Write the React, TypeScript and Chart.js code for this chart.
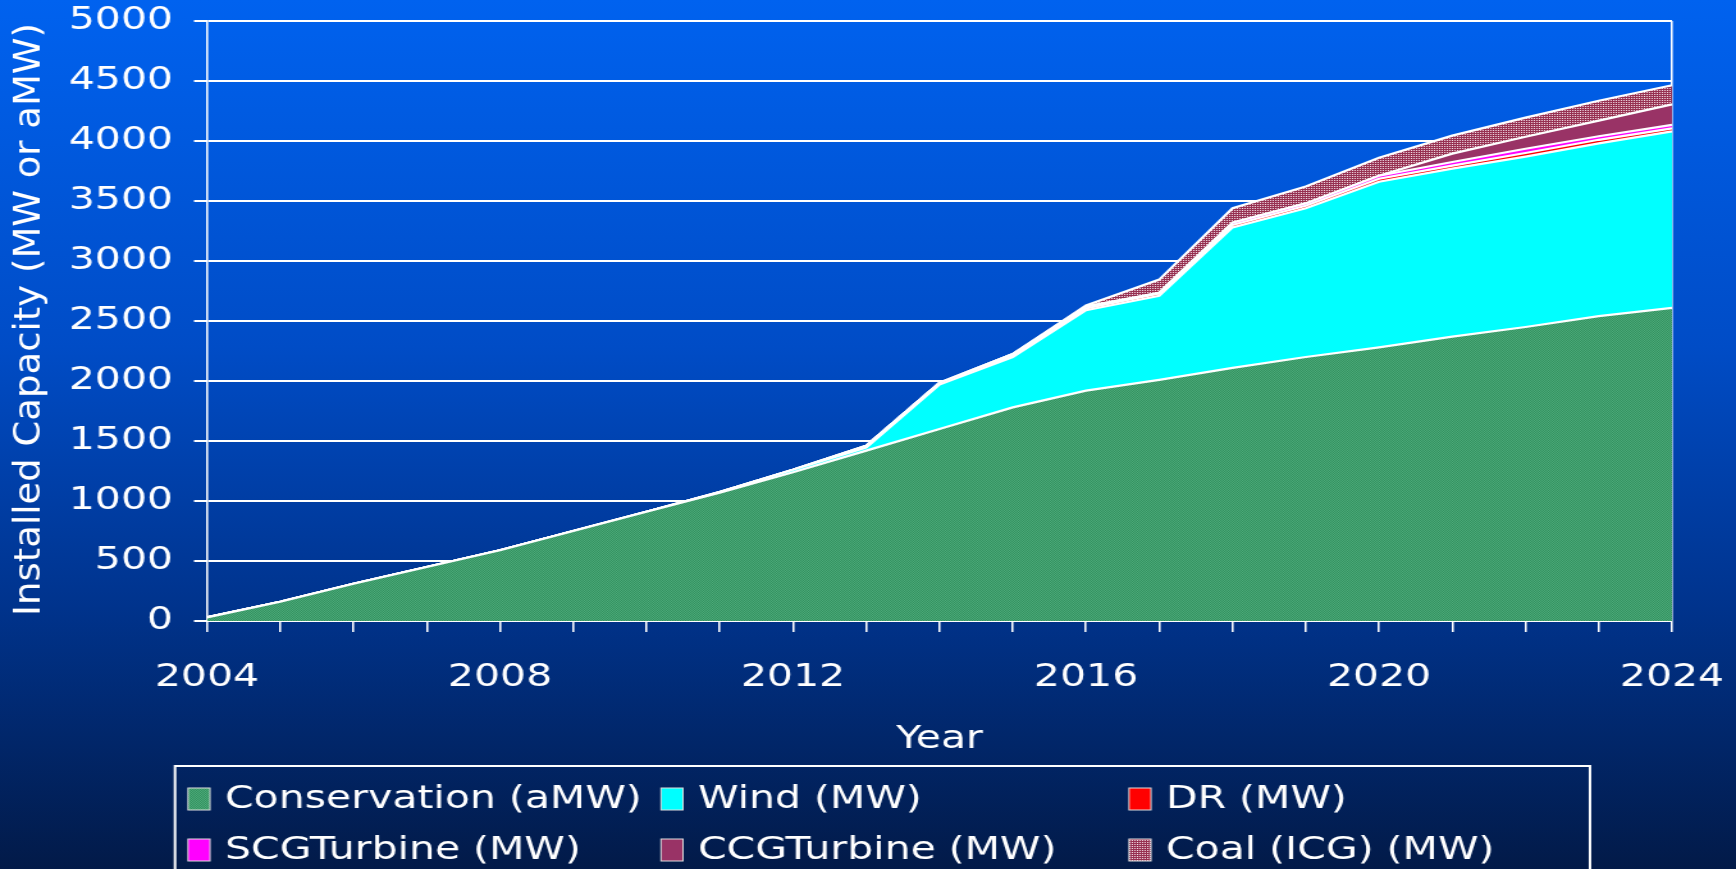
import React, { useEffect, useRef } from 'react';
import { Chart, registerables } from 'chart.js';

Chart.register(...registerables);

// ---- data ----
const years = [2004, 2005, 2006, 2007, 2008, 2009, 2010, 2011, 2012, 2013, 2014, 2015, 2016, 2017, 2018, 2019, 2020, 2021, 2022, 2023, 2024];
const conservation = [30, 160, 310, 450, 590, 750, 910, 1070, 1240, 1420, 1600, 1780, 1920, 2010, 2110, 2200, 2280, 2370, 2450, 2540, 2610];
const wind = [0, 0, 0, 0, 0, 0, 0, 5, 20, 25, 370, 420, 670, 700, 1170, 1240, 1380, 1400, 1420, 1440, 1470];
const dr = [0, 0, 0, 0, 0, 0, 0, 0, 0, 15, 15, 15, 15, 20, 20, 20, 25, 25, 30, 30, 25];
const scgTurbine = [0, 0, 0, 0, 0, 0, 0, 0, 0, 0, 0, 10, 15, 5, 20, 20, 25, 30, 35, 30, 30];
const ccgTurbine = [0, 0, 0, 0, 0, 0, 0, 0, 0, 0, 0, 0, 0, 0, 0, 0, 0, 70, 100, 130, 170];
const coal = [0, 0, 0, 0, 0, 0, 0, 0, 0, 0, 0, 0, 10, 110, 120, 140, 150, 150, 160, 165, 160];
const seriesLabels = ['Conservation (aMW)', 'Wind (MW)', 'DR (MW)', 'SCGTurbine (MW)', 'CCGTurbine (MW)', 'Coal (ICG) (MW)'];
const xLabelYears = [2004, 2008, 2012, 2016, 2020, 2024];
const yMin = 0;
const yMax = 5000;
const yStep = 500;
const xTitle = 'Year';
const yTitle = 'Installed Capacity (MW or aMW)';

// ---- layout (canvas is drawn narrower and stretched horizontally) ----
const FULL_W = 1736;
const FULL_H = 869;
const SX = 1.28;
const CW = Math.round(FULL_W / SX);
const SXR = FULL_W / CW;
const FONT = '"DejaVu Sans", Verdana, sans-serif';

function makePattern(ctx: CanvasRenderingContext2D, base: string, dot: string) {
  const cv = document.createElement('canvas');
  cv.width = 2;
  cv.height = 2;
  const g = cv.getContext('2d')!;
  g.fillStyle = base;
  g.fillRect(0, 0, 2, 2);
  g.fillStyle = dot;
  g.fillRect(0, 0, 1, 1);
  return ctx.createPattern(cv, 'repeat') as CanvasPattern;
}

function checker(ctx: CanvasRenderingContext2D, c1: string, c2: string) {
  const cv = document.createElement('canvas');
  cv.width = 2;
  cv.height = 2;
  const g = cv.getContext('2d')!;
  g.fillStyle = c1;
  g.fillRect(0, 0, 2, 2);
  g.fillStyle = c2;
  g.fillRect(0, 0, 1, 1);
  g.fillRect(1, 1, 1, 1);
  return ctx.createPattern(cv, 'repeat') as CanvasPattern;
}

const legendPlugin = {
  id: 'boxLegend',
  afterDraw(chart: any) {
    const ctx: CanvasRenderingContext2D = chart.ctx;
    ctx.save();
    const bl = 175 / SXR;
    const br = 1590 / SXR;
    ctx.strokeStyle = '#ffffff';
    ctx.lineWidth = 2;
    ctx.strokeRect(bl, 766, br - bl, 140);
    const cols = [188 / SXR, 661 / SXR, 1129 / SXR];
    const rows = [799, 850];
    const sw = 22 / SXR;
    ctx.font = `32px ${FONT}`;
    ctx.textBaseline = 'middle';
    ctx.textAlign = 'left';
    chart.data.datasets.forEach((ds: any, i: number) => {
      const x = cols[i % 3];
      const y = rows[Math.floor(i / 3)];
      ctx.fillStyle = ds.backgroundColor;
      ctx.fillRect(x, y - 11, sw, 22);
      ctx.strokeStyle = '#dddddd';
      ctx.lineWidth = 1;
      ctx.strokeRect(x, y - 11, sw, 22);
      ctx.fillStyle = '#ffffff';
      ctx.fillText(ds.label, x + 37 / SXR, y + 1);
    });
    ctx.translate(30 / SXR, 319.5);
    ctx.scale(1 / SXR, 1);
    ctx.rotate(-Math.PI / 2);
    ctx.textAlign = 'center';
    ctx.font = `37px ${FONT}`;
    ctx.fillStyle = '#ffffff';
    ctx.fillText(yTitle, 0, 0);
    ctx.restore();
  },
};

export default function App() {
  const ref = useRef<HTMLCanvasElement | null>(null);

  useEffect(() => {
    const canvas = ref.current;
    if (!canvas) return;
    const ctx = canvas.getContext('2d')!;
    const fills = [
      checker(ctx, '#33915f', '#4caa7a'),
      '#00ffff',
      '#ff0000',
      '#ff00ff',
      '#993366',
      makePattern(ctx, '#962f50', '#f0dbe4'),
    ];
    const values = [conservation, wind, dr, scgTurbine, ccgTurbine, coal];
    const datasets = values.map((arr, i) => ({
      label: seriesLabels[i],
      data: years.map((x, j) => ({ x, y: arr[j] })),
      backgroundColor: fills[i],
      borderColor: '#ffffff',
      borderWidth: 2.2,
      pointRadius: 0,
      tension: 0,
      fill: i === 0 ? 'origin' : '-1',
    }));

    const chart = new Chart(ctx, {
      type: 'line',
      data: { datasets },
      options: {
        animation: false,
        responsive: false,
        devicePixelRatio: 1,
        events: [],
        layout: { padding: { left: 0, right: CW - 1672 / SXR, top: 21, bottom: FULL_H - 760 } },
        plugins: {
          legend: { display: false },
          tooltip: { enabled: false },
        },
        scales: {
          x: {
            type: 'linear',
            min: years[0],
            max: years[years.length - 1],
            ticks: {
              stepSize: 1,
              autoSkip: false,
              maxRotation: 0,
              padding: 26,
              color: '#ffffff',
              font: { family: FONT, size: 32 },
              callback: (v: any) => (xLabelYears.includes(Number(v)) ? String(v) : ''),
            },
            grid: {
              drawOnChartArea: true,
              color: (c: any) => (c.tick && c.tick.value === years[years.length - 1] ? '#ffffff' : 'rgba(0,0,0,0)'),
              tickColor: '#ffffff',
              tickLength: 11,
              lineWidth: 2 / SXR,
            },
            border: { display: true, color: '#ffffff', width: 2 },
            title: {
              display: true,
              text: xTitle,
              color: '#ffffff',
              font: { family: FONT, size: 32 },
              padding: { top: 0, bottom: 1 },
            },
            afterFit: (s: any) => {
              s.height = 139;
              s.paddingLeft = 0;
              s.paddingRight = 0;
            },
          },
          y: {
            stacked: true,
            min: yMin,
            max: yMax,
            ticks: {
              stepSize: yStep,
              padding: 21 / SXR,
              color: '#ffffff',
              font: { family: FONT, size: 32 },
              callback: (v: any) => String(v),
            },
            grid: {
              color: '#ffffff',
              lineWidth: 2,
              tickLength: 13 / SXR,
              tickColor: '#ffffff',
            },
            border: { display: true, color: '#ffffff', width: 2 / SXR },
            title: { display: false },
            afterFit: (s: any) => {
              s.width = 207 / SXR;
              s.paddingTop = 0;
              s.paddingBottom = 0;
            },
          },
        },
      },
      plugins: [legendPlugin],
    } as any);

    return () => chart.destroy();
  }, []);

  return (
    <div
      style={{
        position: 'fixed',
        left: 0,
        top: 0,
        width: FULL_W,
        height: FULL_H,
        overflow: 'hidden',
        background: 'linear-gradient(to bottom, #0062ef 0%, #004cc6 40%, #00338c 70%, #021a48 100%)',
      }}
    >
      <div style={{ width: CW, height: FULL_H, transform: `scaleX(${SXR})`, transformOrigin: '0 0' }}>
        <canvas ref={ref} width={CW} height={FULL_H} style={{ width: CW, height: FULL_H, display: 'block' }} />
      </div>
    </div>
  );
}
